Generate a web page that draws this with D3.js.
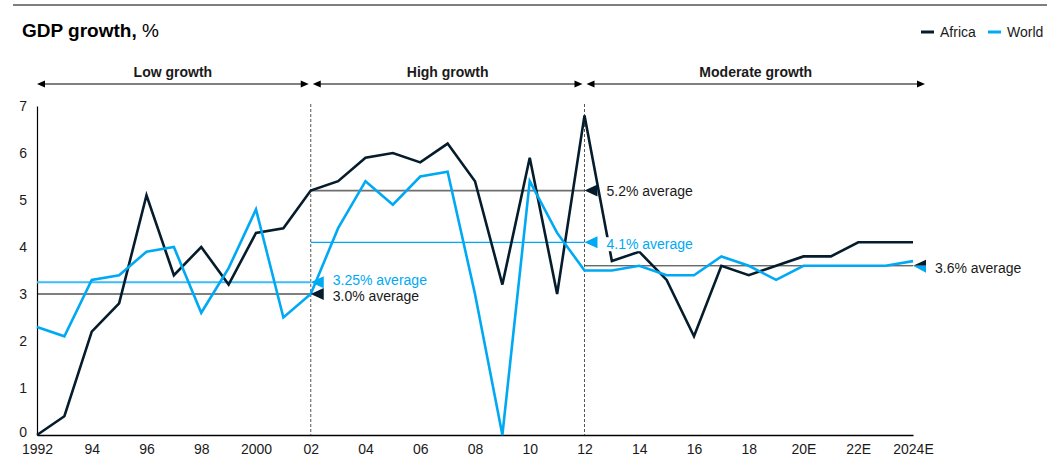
<!DOCTYPE html>
<html>
<head>
<meta charset="utf-8">
<script src="https://cdn.jsdelivr.net/npm/d3@7"></script>
<style>
  html, body { margin: 0; padding: 0; background: #fff; }
  svg { display: block; font-family: Arial, "Liberation Sans", sans-serif; }
</style>
</head>
<body>
<svg id="chart" width="1053" height="475"></svg>
<script>
// ---- Data -------------------------------------------------------------
const years = d3.range(1992, 2025);

const africa = [
  0.0, 0.4, 2.2, 2.8, 5.1, 3.4, 4.0, 3.2, 4.3, 4.4,
  5.2, 5.4, 5.9, 6.0, 5.8, 6.2, 5.4, 3.2, 5.9, 3.0,
  6.8, 3.7, 3.9, 3.3, 2.1, 3.6, 3.4, 3.6, 3.8, 3.8, 4.1, 4.1, 4.1
];

const world = [
  2.3, 2.1, 3.3, 3.4, 3.9, 4.0, 2.6, 3.55, 4.8, 2.5,
  3.0, 4.4, 5.4, 4.9, 5.5, 5.6, 3.0, 0.0, 5.4, 4.3,
  3.5, 3.5, 3.6, 3.4, 3.4, 3.8, 3.6, 3.3, 3.6, 3.6, 3.6, 3.6, 3.7
];

const tickYears  = [1992, 1994, 1996, 1998, 2000, 2002, 2004, 2006, 2008, 2010, 2012, 2014, 2016, 2018, 2020, 2022, 2024];
const tickLabels = ["1992", "94", "96", "98", "2000", "02", "04", "06", "08", "10", "12", "14", "16", "18", "20E", "22E", "2024E"];
const yTicks = [0, 1, 2, 3, 4, 5, 6, 7];

const periodNames = ["Low growth", "High growth", "Moderate growth"];
const periodStart = [1992, 2002, 2012];
const periodEnd   = [2002, 2012, 2024];
const africaAvg   = [3.0, 5.2, 3.6];
const worldAvg    = [3.25, 4.1, 3.6];
const africaAvgLabels = ["3.0% average", "5.2% average", "3.6% average"];
const worldAvgLabels  = ["3.25% average", "4.1% average", ""];

const seriesNames = ["Africa", "World"];

// ---- Setup -------------------------------------------------------------
const NAVY = "#051c2c", CYAN = "#00a9f4";
const FONT = "Arial, 'Liberation Sans', sans-serif";
const svg = d3.select("#chart");

const x = d3.scaleLinear().domain([1992, 2024]).range([37, 913]);
const y = d3.scaleLinear().domain([0, 7]).range([435, 106]);

// top rule
svg.append("line")
  .attr("x1", 13).attr("x2", 1047).attr("y1", 5).attr("y2", 5)
  .attr("stroke", "#7f7f7f").attr("stroke-width", 2);

// title
const title = svg.append("text").attr("x", 22).attr("y", 37)
  .attr("font-size", 19).attr("fill", "#000");
title.append("tspan").attr("font-weight", "bold").text("GDP growth, ");
title.append("tspan").text("%");

// legend
const legendX = [921, 988];
seriesNames.forEach((name, i) => {
  const g = svg.append("g").attr("transform", `translate(${legendX[i]},32)`);
  g.append("line").attr("x1", 0).attr("x2", 13).attr("y1", 0).attr("y2", 0)
    .attr("stroke", i === 0 ? NAVY : CYAN).attr("stroke-width", 3);
  g.append("text").attr("x", 19).attr("y", 0).attr("dy", "0.35em")
    .attr("font-size", 14).attr("fill", "#1a1a1a").text(name);
});

// ---- Axes -------------------------------------------------------------
const xAxis = svg.append("g").attr("transform", `translate(0,${y(0)})`)
  .call(d3.axisBottom(x).tickValues(tickYears)
    .tickFormat((d, i) => tickLabels[i]).tickSize(0).tickSizeOuter(0).tickPadding(9));
xAxis.select(".domain").attr("stroke", "#000").attr("stroke-width", 1.5);
xAxis.selectAll("text").attr("font-size", 14).attr("fill", "#1a1a1a").attr("font-family", FONT);

const yAxis = svg.append("g").attr("transform", `translate(${x(1992)},0)`)
  .call(d3.axisLeft(y).tickValues(yTicks).tickFormat(d3.format("d"))
    .tickSize(0).tickSizeOuter(0).tickPadding(10));
yAxis.select(".domain").attr("stroke", "#000").attr("stroke-width", 1.2);
yAxis.selectAll("text").attr("font-size", 14).attr("fill", "#1a1a1a").attr("font-family", FONT)
  .attr("dy", d => d === 0 ? "0.1em" : "0.32em");

// ---- Period dividers and arrows ---------------------------------------
[2002, 2012].forEach(yr => {
  svg.append("line")
    .attr("x1", x(yr)).attr("x2", x(yr)).attr("y1", 104).attr("y2", y(0))
    .attr("stroke", "#555").attr("stroke-width", 1).attr("stroke-dasharray", "3,2");
});

const arrowY = 84;
function arrowHead(xTip, dir) {
  // dir = -1 points left, +1 points right
  const len = 8, half = 3.5;
  return `M${xTip},${arrowY}L${xTip - dir * len},${arrowY - half}L${xTip - dir * len},${arrowY + half}Z`;
}
periodNames.forEach((name, i) => {
  const x0 = x(periodStart[i]) + (i === 0 ? 0 : 2);
  const x1 = x(periodEnd[i]) + (i === periodNames.length - 1 ? 12 : -2);
  svg.append("line").attr("x1", x0 + 4).attr("x2", x1 - 4)
    .attr("y1", arrowY).attr("y2", arrowY).attr("stroke", "#000").attr("stroke-width", 1);
  svg.append("path").attr("d", arrowHead(x0, -1)).attr("fill", "#000");
  svg.append("path").attr("d", arrowHead(x1, 1)).attr("fill", "#000");
  svg.append("text").attr("x", (x0 + x1) / 2).attr("y", 77)
    .attr("text-anchor", "middle").attr("font-size", 14).attr("font-weight", "bold")
    .attr("fill", "#1a1a1a").text(name);
});

// ---- Average lines ---------------------------------------------------
const africaAvgStyle = [
  { stroke: "#000", width: 1 },
  { stroke: "#6e6e6e", width: 1.6 },
  { stroke: "#2b2b2b", width: 1 }
];
const worldAvgStyle = [
  { stroke: "#3dbcf5", width: 2 },
  { stroke: CYAN, width: 1.2 },
  null
];
periodNames.forEach((_, i) => {
  const x0 = x(periodStart[i]), x1 = x(periodEnd[i]);
  if (worldAvgStyle[i]) {
    svg.append("line").attr("x1", x0).attr("x2", x1)
      .attr("y1", y(worldAvg[i])).attr("y2", y(worldAvg[i]))
      .attr("stroke", worldAvgStyle[i].stroke).attr("stroke-width", worldAvgStyle[i].width);
  }
  svg.append("line").attr("x1", x0).attr("x2", x1)
    .attr("y1", y(africaAvg[i])).attr("y2", y(africaAvg[i]))
    .attr("stroke", africaAvgStyle[i].stroke).attr("stroke-width", africaAvgStyle[i].width);
});

// ---- Series lines ---------------------------------------------------
const line = d3.line().x((d, i) => x(years[i])).y(d => y(d));
svg.append("path").datum(africa).attr("d", line)
  .attr("fill", "none").attr("stroke", NAVY).attr("stroke-width", 2.6);
svg.append("path").datum(world).attr("d", line)
  .attr("fill", "none").attr("stroke", CYAN).attr("stroke-width", 2.6);

// ---- Average markers and labels -------------------------------------
const triW = 13, triH = 6;
function fullTri(xt, yt) {
  return `M${xt},${yt}L${xt + triW},${yt - triH}L${xt + triW},${yt + triH}Z`;
}
// label on a white plate so crossing lines stay behind the text
function plateLabel(xPos, yPos, txt, color) {
  const g = svg.append("g");
  const rect = g.append("rect").attr("fill", "#fff");
  const t = g.append("text").attr("x", xPos).attr("y", yPos).attr("dy", "0.35em")
    .attr("font-size", 14).attr("fill", color).text(txt);
  const b = t.node().getBBox();
  rect.attr("x", b.x - 1).attr("y", b.y + 1).attr("width", b.width + 2).attr("height", b.height - 2);
}
// small vertical nudges keep neighbouring labels apart
const worldLabelShift  = [-2.5, 2, 0];
const africaLabelShift = [2.5, 0, 2];
periodNames.forEach((_, i) => {
  const xt = x(periodEnd[i]);
  const ya = y(africaAvg[i]), yw = y(worldAvg[i]);
  const labelX = xt + 22;
  if (worldAvgLabels[i]) {
    svg.append("path").attr("d", fullTri(xt, yw)).attr("fill", CYAN);
    svg.append("path").attr("d", fullTri(xt, ya)).attr("fill", NAVY);
    plateLabel(labelX, yw + worldLabelShift[i], worldAvgLabels[i], CYAN);
    plateLabel(labelX, ya + africaLabelShift[i], africaAvgLabels[i], "#1a1a1a");
  } else {
    // shared average: upper half Africa, lower half World
    svg.append("path").attr("d", `M${xt},${ya}L${xt + triW},${ya - triH}L${xt + triW},${ya}Z`).attr("fill", NAVY);
    svg.append("path").attr("d", `M${xt},${yw}L${xt + triW},${yw}L${xt + triW},${yw + triH + 1}Z`).attr("fill", CYAN);
    plateLabel(labelX, ya + africaLabelShift[i], africaAvgLabels[i], "#1a1a1a");
  }
});
</script>
</body>
</html>
